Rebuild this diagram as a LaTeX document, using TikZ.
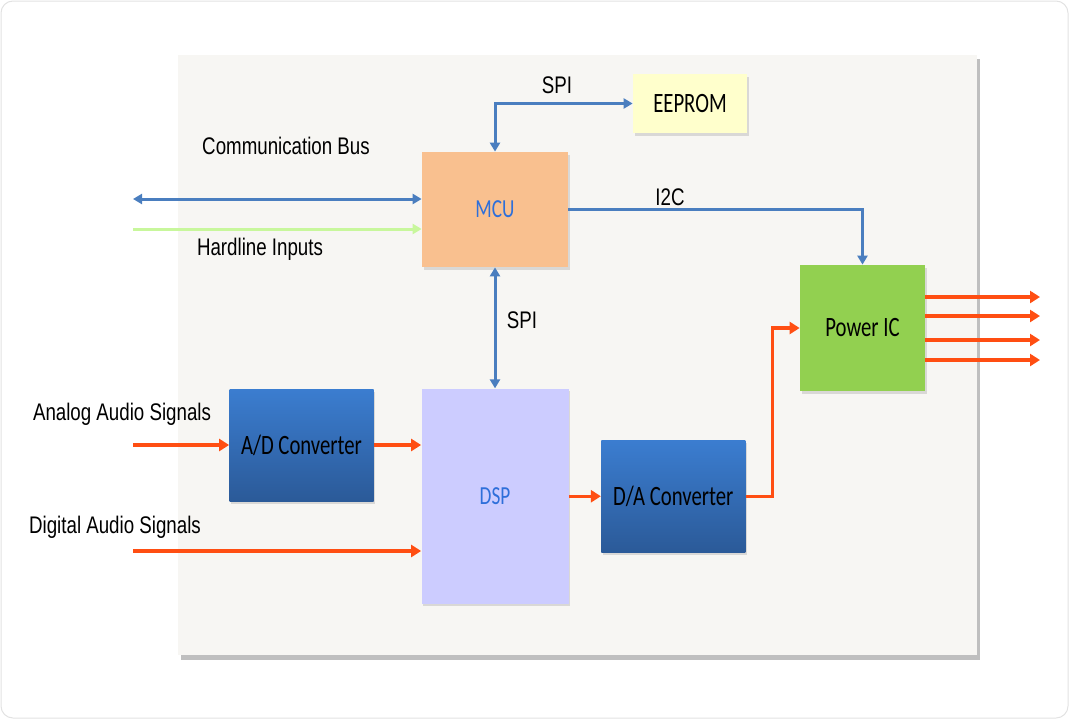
\documentclass[tikz,border=0pt]{standalone}
\usepackage{fontspec}
\newfontfamily\boxfont[FakeStretch=0.74]{Carlito}
\newfontfamily\lblfont[FakeStretch=0.78]{Liberation Sans}
\usepackage{tikz}
\usetikzlibrary{arrows.meta, positioning, shadows}
\tikzset{every picture/.style={line width=0.75pt}}

\definecolor{framegray}{HTML}{E2E2E2}
\definecolor{panelbg}{HTML}{F7F6F3}
\definecolor{busblue}{HTML}{4A7EBF}
\definecolor{sigred}{HTML}{FF4E12}
\definecolor{hardgreen}{HTML}{C8F79C}
\definecolor{mcufill}{HTML}{F9C08F}
\definecolor{romfill}{HTML}{FFFFCC}
\definecolor{pwrfill}{HTML}{92D050}
\definecolor{dspfill}{HTML}{CCCCFF}
\definecolor{convtop}{HTML}{3B7DD0}
\definecolor{convbot}{HTML}{2B5A98}
\definecolor{textblue}{HTML}{2E6FDA}

\begin{document}
\begin{tikzpicture}[x=1pt, y=-1pt,
    block/.style={inner sep=0pt, align=center, font=\boxfont\fontsize{28}{30}\selectfont,
        drop shadow={shadow xshift=1.5pt, shadow yshift=-2.5pt, opacity=0.25}},
    chip/.style={block, font=\boxfont\fontsize{26}{28}\selectfont, text=textblue},
    conv/.style={block, top color=convtop, bottom color=convbot,
        minimum width=144pt, minimum height=112pt},
    lbl/.style={font=\lblfont\fontsize{24}{26}\selectfont, inner sep=0pt},
    bus/.style={busblue, line width=3pt},
    sig/.style={sigred, line width=3.5pt, -{Triangle[length=10pt,width=12pt]}},
    busarrow/.style={-{Triangle[length=9pt,width=10pt]}},
    busboth/.style={{Triangle[length=9pt,width=10pt]}-{Triangle[length=9pt,width=10pt]}}]

    % frame and panel
    \useasboundingbox (0,0) rectangle (1070,720);
    \draw[framegray, line width=1pt, rounded corners=12pt] (1,1) rectangle (1068,718);
    \fill[black!25] (181,59) rectangle (980,660);
    \fill[panelbg] (178,55) rectangle (977,655);

    % blocks
    \node[chip, fill=mcufill, minimum width=146pt, minimum height=115pt] (mcu) at (495,209.5) {MCU};
    \node[block, fill=romfill, minimum width=114pt, minimum height=59pt] (rom) at (690,103.5) {EEPROM};
    \node[chip, fill=dspfill, minimum width=147pt, minimum height=215pt, below=121pt of mcu] (dsp) {DSP};
    \node[conv] (adc) at (301.5,445) {A/D Converter};
    \node[conv, right=32pt of dsp] (dac) {D/A Converter};
    \node[block, fill=pwrfill, minimum width=125pt, minimum height=126pt] (pwr) at (862.5,328) {Power IC};

    % free ends
    \coordinate (combus) at (133,199);
    \coordinate (hard) at (133,229);
    \coordinate (ana) at (133,445);
    \coordinate (dig) at (133,551);

    % labels
    \node[lbl] (spitop) at (557,85) {SPI};
    \node[lbl] (spimid) at (522,320) {SPI};
    \node[lbl] (i2c) at (670,197) {I2C};
    \node[lbl] (comlbl) at (286,146) {Communication Bus};
    \node[lbl] (hardlbl) at (260,249) {Hardline Inputs};
    \node[lbl] (analbl) at (122,414) {Analog Audio Signals};
    \node[lbl] (diglbl) at (115,527) {Digital Audio Signals};

    % connectors
    \draw[bus, busboth] (mcu.north) |- (rom.west);
    \draw[bus, busboth] (combus) -- (combus -| mcu.west);
    \draw[hardgreen, line width=3pt, busarrow] (hard) -- (hard -| mcu.west);
    \draw[bus, busarrow] (mcu.east) -| (pwr.north);
    \draw[bus, busboth] (mcu.south) -- (dsp.north);
    \draw[sig] (ana) -- (adc.west);
    \draw[sig] (adc.east) -- (adc.east -| dsp.west);
    \draw[sig] (dig) -- (dig -| dsp.west);
    \draw[sig] (dsp.east) -- (dac.west);
    \draw[sig] (dac.east) -- ++(27,0) |- (pwr.west);
    \foreach \i/\y in {1/297, 2/316, 3/340, 4/360} {
        \coordinate (out\i) at (1040,\y);
        \draw[sig] (pwr.east |- out\i) -- (out\i);
    }
\end{tikzpicture}
\end{document}
